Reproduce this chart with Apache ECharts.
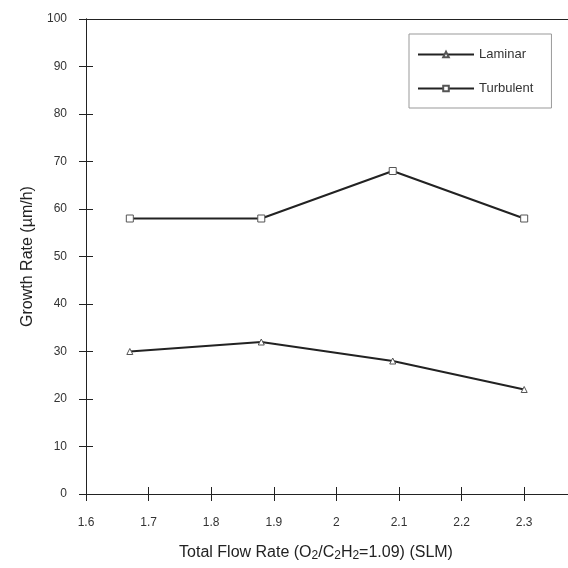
<!DOCTYPE html>
<html>
<head>
<meta charset="utf-8">
<script src="https://cdn.jsdelivr.net/npm/echarts@6/dist/echarts.min.js"></script>
<style>html,body{margin:0;padding:0;background:#fff}#c{width:568px;height:568px}</style>
</head>
<body>
<div id="c"></div>
<script>
var flowRates = [1.67, 1.88, 2.09, 2.30];
var laminar = [30, 32, 28, 22];
var turbulent = [58, 58, 68, 58];
var seriesNames = ['Laminar', 'Turbulent'];
var xTicks = [1.6, 1.7, 1.8, 1.9, 2, 2.1, 2.2, 2.3];
var yTicks = [0, 10, 20, 30, 40, 50, 60, 70, 80, 90, 100];

function pairs(xs, ys) { return xs.map(function (x, i) { return [x, ys[i]]; }); }

var font = 'Liberation Sans, Arial, sans-serif';
var ink = '#222';
var gridBox = { left: 86, top: 19, right: 0, bottom: 74 };
var xMin = xTicks[0], xMax = 2.37;
var yMin = yTicks[0], yMax = yTicks[yTicks.length - 1];

var chart = echarts.init(document.getElementById('c'));
chart.setOption({
  animation: false,
  backgroundColor: '#fff',
  grid: [
    Object.assign({}, gridBox),
    Object.assign({}, gridBox)
  ],
  legend: {
    data: seriesNames,
    orient: 'vertical',
    left: 409, top: 34,
    itemWidth: 56, itemHeight: 7, itemGap: 21,
    padding: [14, 18, 13, 8],
    borderColor: '#999', borderWidth: 1,
    textStyle: { fontFamily: font, fontSize: 13, color: '#333' }
  },
  xAxis: [
    {
      type: 'value', gridIndex: 0, position: 'bottom',
      min: xMin, max: xMax, interval: 0.1,
      axisLine: { lineStyle: { color: ink, width: 1 } },
      axisTick: { length: 7, lineStyle: { color: ink } },
      axisLabel: {
        margin: 23, fontFamily: font, fontSize: 12, color: '#333',
        showMaxLabel: false,
        formatter: function (v) { return v > 2.31 ? '' : String(+v.toFixed(1)); }
      },
      splitLine: { show: false },
      name: '{n|Total Flow Rate (O}{s|2}{n|/C}{s|2}{n|H}{s|2}{n|=1.09) (SLM)}',
      nameLocation: 'middle', nameGap: 50,
      nameTextStyle: {
        padding: [0, 22, 0, 0],
        rich: {
          n: { fontFamily: font, fontSize: 16, color: '#222' },
          s: { fontFamily: font, fontSize: 12, color: '#222', verticalAlign: 'bottom', padding: [6, 0, 0, 0] }
        }
      }
    },
    {
      type: 'value', gridIndex: 0, position: 'top',
      min: xMin, max: xMax, interval: 0.1,
      axisLine: { lineStyle: { color: ink, width: 1 } },
      axisTick: { show: false }, axisLabel: { show: false }, splitLine: { show: false }
    },
    {
      type: 'value', gridIndex: 1, position: 'bottom',
      min: xMin, max: xMax, interval: 0.1,
      axisLine: { show: true, lineStyle: { color: ink, width: 1 } },
      axisTick: { show: true, inside: true, length: 7, lineStyle: { color: ink } },
      axisLabel: { show: false }, splitLine: { show: false }
    }
  ],
  yAxis: [
    {
      type: 'value', gridIndex: 0,
      min: yMin, max: yMax, interval: 10,
      axisLine: { show: true, lineStyle: { color: ink, width: 1 } },
      axisTick: { show: true, length: 7, lineStyle: { color: ink } },
      axisLabel: { margin: 19, fontFamily: font, fontSize: 12, color: '#333' },
      splitLine: { show: false },
      name: 'Growth Rate (µm/h)',
      nameLocation: 'middle', nameGap: 44,
      nameTextStyle: { fontFamily: font, fontSize: 16, color: '#222' }
    },
    {
      type: 'value', gridIndex: 1,
      min: yMin, max: yMax, interval: 10,
      axisLine: { show: true, lineStyle: { color: ink, width: 1 } },
      axisTick: { show: true, inside: true, length: 7, lineStyle: { color: ink } },
      axisLabel: { show: false }, splitLine: { show: false }
    }
  ],
  series: [
    {
      name: seriesNames[0], type: 'line', xAxisIndex: 0, yAxisIndex: 0,
      data: pairs(flowRates, laminar),
      symbol: 'triangle', symbolSize: 6, showAllSymbol: true,
      lineStyle: { color: ink, width: 2 },
      itemStyle: { color: '#fff', borderColor: '#555', borderWidth: 1 }
    },
    {
      name: seriesNames[1], type: 'line', xAxisIndex: 0, yAxisIndex: 0,
      data: pairs(flowRates, turbulent),
      symbol: 'rect', symbolSize: 7, showAllSymbol: true,
      lineStyle: { color: ink, width: 2 },
      itemStyle: { color: '#fff', borderColor: '#555', borderWidth: 1 }
    }
  ]
});
</script>
</body>
</html>
